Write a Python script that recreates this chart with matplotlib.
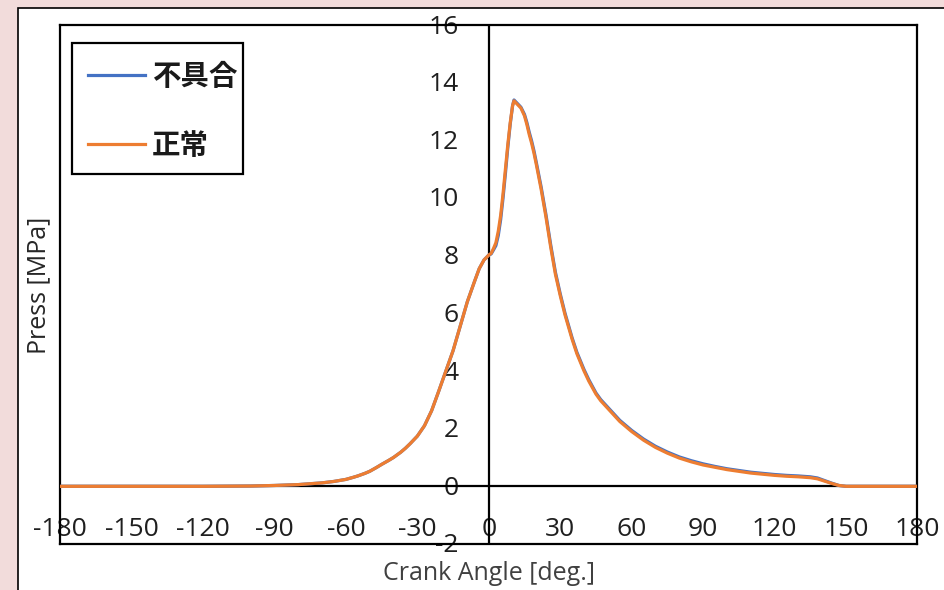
import matplotlib.pyplot as plt
import matplotlib.transforms as mtransforms
from matplotlib.patches import Rectangle

plt.rcParams['font.family'] = ['Open Sans', 'Noto Sans CJK JP', 'DejaVu Sans']

# Crank angle [deg] and cylinder pressure [MPa]
angle = [-180, -150, -120, -100, -90, -80, -70, -65, -60, -57,
         -55, -52, -50, -47, -45, -42, -40, -37, -35, -33,
         -30, -27, -24, -21, -18, -15, -12, -9, -6, -4,
         -2, 0, 1, 2, 3, 4, 5, 6, 7, 8,
         9, 10, 10.6, 12, 13.5, 15, 16, 17, 18, 19,
         20, 22, 24, 26, 28, 30, 32, 35, 37, 40,
         42, 45, 47, 50, 55, 60, 65, 70, 75, 80,
         85, 90, 95, 100, 105, 110, 115, 120, 125, 130,
         135, 138, 141, 144, 147, 150, 165, 180]

press_ok = [0.0, 0.0, 0.0, 0.01, 0.03, 0.06, 0.12, 0.17, 0.24, 0.31,
            0.36, 0.45, 0.52, 0.66, 0.76, 0.90, 1.00, 1.18, 1.32, 1.48,
            1.74, 2.10, 2.62, 3.30, 4.00, 4.70, 5.55, 6.40, 7.10, 7.55,
            7.85, 8.02, 8.08, 8.25, 8.45, 8.85, 9.40, 10.15, 11.00, 11.85,
            12.60, 13.20, 13.37, 13.25, 13.12, 12.85, 12.55, 12.20, 11.90, 11.55,
            11.15, 10.30, 9.35, 8.30, 7.35, 6.62, 5.95, 5.10, 4.60, 4.00,
            3.65, 3.20, 2.97, 2.70, 2.25, 1.90, 1.60, 1.35, 1.15, 0.98,
            0.85, 0.74, 0.66, 0.58, 0.52, 0.46, 0.42, 0.38, 0.35, 0.33,
            0.30, 0.26, 0.18, 0.10, 0.03, 0.0, 0.0, 0.0]

press_ng = [0.0, 0.0, 0.0, 0.01, 0.03, 0.06, 0.12, 0.17, 0.24, 0.31,
            0.36, 0.45, 0.52, 0.66, 0.76, 0.90, 1.00, 1.18, 1.32, 1.48,
            1.74, 2.10, 2.62, 3.30, 4.00, 4.70, 5.55, 6.40, 7.10, 7.55,
            7.85, 8.02, 8.06, 8.20, 8.35, 8.70, 9.25, 10.00, 10.85, 11.75,
            12.55, 13.20, 13.40, 13.28, 13.15, 12.90, 12.62, 12.28, 11.98, 11.63,
            11.22, 10.38, 9.43, 8.38, 7.42, 6.68, 6.01, 5.15, 4.65, 4.05,
            3.70, 3.24, 3.01, 2.74, 2.29, 1.94, 1.64, 1.39, 1.19, 1.02,
            0.89, 0.78, 0.69, 0.61, 0.55, 0.49, 0.45, 0.41, 0.38, 0.36,
            0.33, 0.29, 0.20, 0.11, 0.03, 0.0, 0.0, 0.0]

x_ticks = [-180, -150, -120, -90, -60, -30, 0, 30, 60, 90, 120, 150, 180]
y_ticks = [-2, 0, 2, 4, 6, 8, 10, 12, 14, 16]

W, H = 944, 590
fig = plt.figure(figsize=(W / 100, H / 100), dpi=100, facecolor='#F2DCDB')

# white chart panel
fig.add_artist(Rectangle((17.5 / W, -0.05), 1.0, (H - 7.5) / H + 0.05,
                         transform=fig.transFigure, facecolor='white',
                         edgecolor='black', lw=1.2, zorder=-10))

ax = fig.add_axes([60 / W, 46 / H, 857.5 / W, 519 / H])
ax.set_xlim(-180, 180)
ax.set_ylim(-2, 16)
for s in ax.spines.values():
    s.set_color('black')
    s.set_linewidth(1.6)
ax.set_xticks([])
ax.set_yticks([])

# axes through the origin
ax.axhline(0, color='black', lw=1.6, zorder=2)
ax.axvline(0, color='black', lw=1.6, zorder=2)

ax.plot(angle, press_ng, color='#4472C4', lw=2.3, label='不具合', zorder=3)
ax.plot(angle, press_ok, color='#ED7D31', lw=2.3, label='正常', zorder=4)

# tick labels sit next to the axes that cross at zero
tx = mtransforms.offset_copy(ax.transData, fig=fig, x=0, y=-43, units='dots')
for v in x_ticks:
    ax.text(v, 0, str(v), transform=tx, ha='center', va='center',
            fontsize=19, color='#1f1f1f', zorder=1)
ty = mtransforms.offset_copy(ax.transData, fig=fig, x=-30, y=-2, units='dots')
for v in y_ticks:
    ax.text(0, v, str(v), transform=ty, ha='right', va='center',
            fontsize=19, color='#1f1f1f', zorder=1)

fig.text(488.75 / W, 1 - 573 / H, 'Crank Angle [deg.]', ha='center',
         va='center', fontsize=18, color='#404040')
fig.text(39 / W, 1 - 285 / H, 'Press [MPa]', ha='center', va='center',
         rotation=90, fontsize=18, color='#262626')

# legend box drawn separately so its padding can be uneven
ax.add_patch(Rectangle((72 / W, 1 - 174 / H), 171 / W, 131 / H,
                       transform=fig.transFigure, facecolor='white',
                       edgecolor='black', lw=1.6, zorder=4.5))
leg = ax.legend(loc='upper left', bbox_to_anchor=(12 / 857.5, 1 - 22 / 519),
                borderaxespad=0, frameon=False,
                prop={'family': ['Noto Sans CJK JP'], 'weight': 'bold',
                      'size': 20.5},
                handlelength=2.0, handletextpad=0.25, labelspacing=1.45,
                borderpad=0.55)
for t in leg.get_texts():
    t.set_color('#1a1a1a')

fig.savefig('out.png', dpi=100, facecolor=fig.get_facecolor())
